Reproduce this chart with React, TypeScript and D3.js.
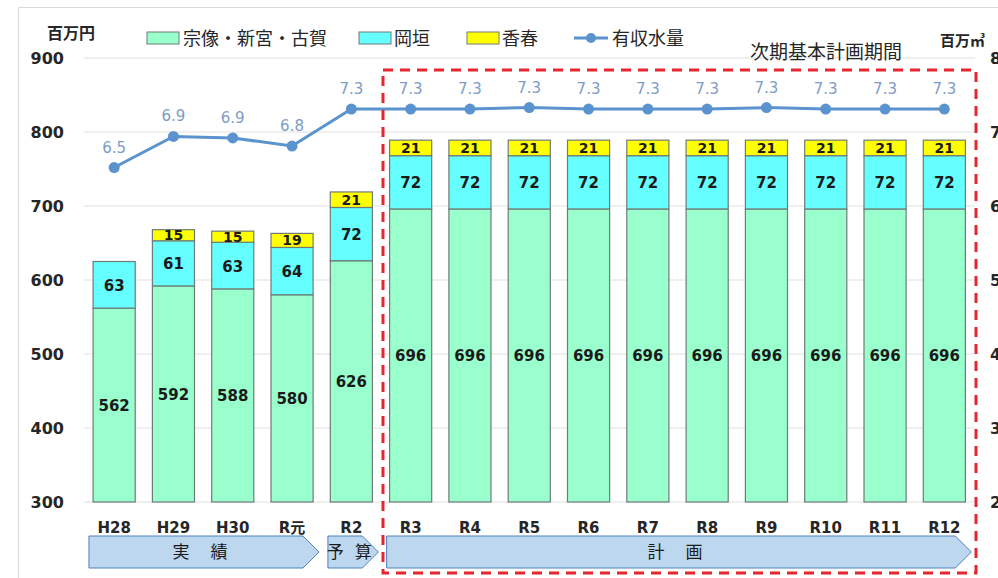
import React from "react";
import * as d3 from "d3";

const categories = ["H28", "H29", "H30", "R元", "R2", "R3", "R4", "R5", "R6", "R7", "R8", "R9", "R10", "R11", "R12"];
const munakata = [562, 592, 588, 580, 626, 696, 696, 696, 696, 696, 696, 696, 696, 696, 696];
const okagaki = [63, 61, 63, 64, 72, 72, 72, 72, 72, 72, 72, 72, 72, 72, 72];
const kawara = [0, 15, 15, 19, 21, 21, 21, 21, 21, 21, 21, 21, 21, 21, 21];
const waterVolume = [6.52, 6.94, 6.92, 6.81, 7.31, 7.31, 7.31, 7.33, 7.31, 7.31, 7.31, 7.33, 7.31, 7.31, 7.31];
const leftTicks = [300, 400, 500, 600, 700, 800, 900];
const rightTicks = [2, 3, 4, 5, 6, 7, 8];
const seriesNames = ["宗像・新宮・古賀", "岡垣", "香春", "有収水量"];
const phases = [
  { chars: ["実", "績"], from: 0, to: 3, gap: 38 },
  { chars: ["予", "算"], from: 4, to: 4, gap: 28 },
  { chars: ["計", "画"], from: 5, to: 14, gap: 38 },
];

const NUM_FONT = "'DejaVu Sans', 'Noto Sans CJK JP', sans-serif";
const JP_FONT = "'Noto Sans CJK JP', sans-serif";

export default function App() {
  const W = 998, H = 578;
  const x = d3.scaleBand<string>().domain(categories).range([84.5, 974]).paddingInner(0.29).paddingOuter(0.145);
  const y = d3.scaleLinear().domain([300, 900]).range([502, 58]);
  const y2 = d3.scaleLinear().domain([2, 8]).range([502, 58]);
  const bw = x.bandwidth();
  const cx = (c: string) => (x(c) as number) + bw / 2;

  const stackData = categories.map((c, i) => ({ c, a: munakata[i], b: okagaki[i], k: kawara[i] }));
  const stack = d3.stack<any>().keys(["a", "b", "k"])(stackData);
  const fills = ["#99FFCC", "#66FFFF", "#FFFF00"];

  const line = d3.line<number>().x((_, i) => cx(categories[i])).y((v) => y2(v));

  const step = x.step();
  const arrowTop = 536, arrowBot = 568, tipLen = 16;

  return (
    <div style={{ position: "absolute", left: 0, top: 0 }}>
      <svg width={W} height={H} style={{ display: "block", background: "#fff" }}>
        <rect x={18.5} y={7.5} width={990} height={590} fill="none" stroke="#D9D9D9" />
        {leftTicks.map((t) => (
          <line key={t} x1={84} x2={975} y1={y(t)} y2={y(t)} stroke="#E0E0E0" strokeWidth={1} />
        ))}
        {leftTicks.map((t) => (
          <text key={"l" + t} x={64} y={y(t) + 6} textAnchor="end" fontFamily={NUM_FONT} fontWeight="bold" fontSize={16} fill="#262626">{t}</text>
        ))}
        {rightTicks.map((t) => (
          <text key={"r" + t} x={990} y={y2(t) + 6} textAnchor="start" fontFamily={NUM_FONT} fontWeight="bold" fontSize={16} fill="#262626">{t}</text>
        ))}
        <text x={47} y={39} fontFamily={JP_FONT} fontWeight="bold" fontSize={16} fill="#262626">百万円</text>
        <text x={940} y={46} fontFamily={JP_FONT} fontWeight="bold" fontSize={15} fill="#262626">百万㎥</text>

        {stack.map((layer, li) =>
          layer.map((d, i) => {
            if (d[1] - d[0] <= 0) return null;
            const y0 = y(Math.max(d[0], 300));
            const y1 = y(d[1]);
            const c = categories[i];
            const val = d[1] - d[0];
            return (
              <g key={li + "-" + i}>
                <rect x={x(c)} y={y1} width={bw} height={y0 - y1} fill={fills[li]} stroke="#6E7B78" strokeWidth={1.2} />
                <text x={cx(c)} y={(y0 + y1) / 2 + (li === 2 ? 5 : 6)} textAnchor="middle" fontFamily={NUM_FONT} fontWeight="bold" fontSize={li === 2 ? 14 : 15} fill="#1A1A1A">{val}</text>
              </g>
            );
          })
        )}

        <path d={line(waterVolume) || ""} fill="none" stroke="#5B93CF" strokeWidth={3} />
        {waterVolume.map((v, i) => (
          <g key={"p" + i}>
            <circle cx={cx(categories[i])} cy={y2(v)} r={5.5} fill="#5B93CF" />
            <text x={cx(categories[i])} y={y2(v) - 15} textAnchor="middle" fontFamily={NUM_FONT} fontSize={15} fill="#7E9CC8">{v.toFixed(1)}</text>
          </g>
        ))}

        {categories.map((c) => (
          <text key={"c" + c} x={cx(c)} y={533} textAnchor="middle" fontFamily={NUM_FONT} fontWeight="bold" fontSize={15} fill="#262626">{c}</text>
        ))}

        {phases.map((p, i) => {
          const left = (x(categories[p.from]) as number) - step * (i === 0 ? 0.07 : i === 1 ? 0.04 : 0.05);
          const tip = (x(categories[p.to]) as number) + bw + step * 0.1;
          const mid = (arrowTop + arrowBot) / 2;
          const pts = [[left, arrowTop], [tip - tipLen, arrowTop], [tip, mid], [tip - tipLen, arrowBot], [left, arrowBot]];
          const center = (left + tip - tipLen / 2) / 2;
          return (
            <g key={"ph" + i}>
              <polygon points={pts.map((q) => q.join(",")).join(" ")} fill="#BDD7EE" stroke="#4F81BD" strokeWidth={1} />
              {p.chars.map((ch, k) => (
                <text key={k} x={center + (k === 0 ? -p.gap / 2 : p.gap / 2)} y={mid + 6} textAnchor="middle" fontFamily={JP_FONT} fontSize={17} fill="#1A1A1A">{ch}</text>
              ))}
            </g>
          );
        })}

        <rect x={383} y={70} width={593} height={503} fill="none" stroke="#E3262F" strokeWidth={3} strokeDasharray="10,7" />
        <text x={750} y={59} fontFamily={JP_FONT} fontSize={19} fill="#262626">次期基本計画期間</text>

        <g fontFamily={JP_FONT} fontSize={18} fill="#262626">
          <rect x={147} y={32} width={32} height={12} fill={fills[0]} stroke="#6E7B78" />
          <text x={183} y={45}>{seriesNames[0]}</text>
          <rect x={359} y={32} width={32} height={12} fill={fills[1]} stroke="#6E7B78" />
          <text x={394} y={45}>{seriesNames[1]}</text>
          <rect x={467} y={32} width={32} height={12} fill={fills[2]} stroke="#6E7B78" />
          <text x={502} y={45}>{seriesNames[2]}</text>
          <line x1={574} x2={608} y1={38} y2={38} stroke="#5B93CF" strokeWidth={3} />
          <circle cx={591} cy={38} r={5} fill="#5B93CF" />
          <text x={612} y={45}>{seriesNames[3]}</text>
        </g>
      </svg>
    </div>
  );
}
